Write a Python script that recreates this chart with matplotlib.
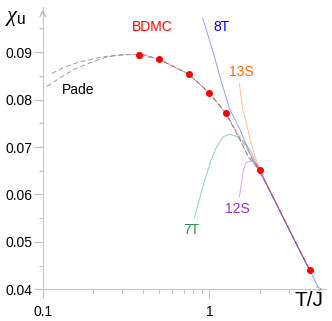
import matplotlib
matplotlib.use('Agg')
import matplotlib.pyplot as plt
from matplotlib.ticker import FixedLocator, NullFormatter

plt.rcParams['font.family'] = ['Liberation Sans', 'DejaVu Sans']
plt.rcParams['mathtext.fontset'] = 'custom'
plt.rcParams['mathtext.rm'] = 'Liberation Sans'
plt.rcParams['mathtext.it'] = 'Liberation Serif:italic'

# BDMC data
bdmc_T = [0.377, 0.50, 0.752, 1.0, 1.25, 2.0, 4.02]
bdmc_chi = [0.0894, 0.08846, 0.08536, 0.0814, 0.0772, 0.0651, 0.0440]
bdmc_err = [0.0006, 0.0002, 0.0001, 0.0001, 0.0001, 0.0001, 0.0001]

# Pade approximants (two branches)
pade1_T = [0.1137, 0.1361, 0.1674, 0.206, 0.2535, 0.334, 0.40, 0.50, 0.75, 1.0, 1.25, 1.46, 1.71, 1.97]
pade1_chi = [0.08553, 0.0869, 0.08795, 0.08869, 0.08922, 0.08950, 0.08950, 0.0885, 0.0854, 0.0814, 0.0772, 0.0729, 0.0680, 0.0653]
pade2_T = [0.1061, 0.127, 0.1563, 0.1922, 0.2366, 0.291, 0.334, 0.40, 0.50, 0.75, 1.0, 1.25, 1.46, 1.71, 1.97]
pade2_chi = [0.08278, 0.08458, 0.08648, 0.08774, 0.0889, 0.08943, 0.08950, 0.08950, 0.0885, 0.0854, 0.0814, 0.0772, 0.0729, 0.0680, 0.0653]

# high-temperature series
s8T_T = [0.913, 1.057, 1.187, 1.318, 1.529, 1.797, 1.968, 2.5, 3.0, 3.5, 4.0, 4.49]
s8T_chi = [0.09717, 0.0898, 0.08346, 0.07819, 0.07361, 0.06764, 0.06517, 0.0583, 0.0527, 0.0480, 0.0440, 0.0405]
s13S_T = [1.514, 1.587, 1.638, 1.755, 1.88, 2.05, 2.5, 3.0, 3.5, 4.0]
s13S_chi = [0.08331, 0.07783, 0.07641, 0.0715, 0.06797, 0.0645, 0.0583, 0.0527, 0.0480, 0.0440]
s7T_T = [0.8128, 0.913, 1.024, 1.108, 1.213, 1.331, 1.46, 1.6, 1.755, 1.925, 2.05, 2.5, 3.0, 3.5, 4.0]
s7T_chi = [0.05498, 0.06165, 0.06728, 0.07009, 0.07219, 0.0727, 0.07219, 0.07114, 0.06939, 0.06623, 0.0645, 0.0583, 0.0527, 0.0480, 0.0440]
s12S_T = [1.514, 1.6, 1.661, 1.779, 1.906, 2.05, 2.5, 3.0, 3.5, 4.0]
s12S_chi = [0.05954, 0.06517, 0.06671, 0.06707, 0.06658, 0.0645, 0.0583, 0.0527, 0.0480, 0.0440]

fig = plt.figure(figsize=(3.32, 3.21), dpi=100)
ax = fig.add_axes([0.1286, 0.0988, 0.853, 0.879])

ax.plot(s7T_T, s7T_chi, color='#2e9a5e', lw=0.7, alpha=0.5)
ax.plot(s12S_T, s12S_chi, color='#a020f0', lw=0.7, alpha=0.4)
ax.plot(s13S_T, s13S_chi, color='#ff7f27', lw=0.7, alpha=0.5)
ax.plot(s8T_T, s8T_chi, color='#0000ff', lw=0.7, alpha=0.4)
ax.plot(pade1_T, pade1_chi, color='#9a9a9a', lw=0.7, dashes=(5, 3))
ax.plot(pade2_T, pade2_chi, color='#9a9a9a', lw=0.7, dashes=(5, 3))
ax.plot(bdmc_T, bdmc_chi, color='#ff0000', lw=0.7, alpha=0.35, dashes=(6, 3))
ax.errorbar(bdmc_T, bdmc_chi, yerr=bdmc_err, fmt='o', color='#ff0000', ms=4,
            ecolor='#ffa0a0', elinewidth=0.7, capsize=2.5, capthick=0.7, zorder=5)

ax.set_xscale('log')
ax.set_xlim(0.1, 5.0)
ax.set_ylim(0.04, 0.0995)

ax.xaxis.set_major_locator(FixedLocator([0.1, 1]))
ax.set_xticklabels(['0.1', '1'])
ax.xaxis.set_minor_locator(FixedLocator([0.2, 0.3, 0.4, 0.5, 0.6, 0.7, 0.8, 0.9, 2, 3, 4]))
ax.xaxis.set_minor_formatter(NullFormatter())
ax.yaxis.set_major_locator(FixedLocator([0.04, 0.05, 0.06, 0.07, 0.08, 0.09]))
ax.set_yticklabels(['0.04', '0.05', '0.06', '0.07', '0.08', '0.09'])
ax.yaxis.set_minor_locator(FixedLocator([0.045, 0.055, 0.065, 0.075, 0.085, 0.095]))

ax.tick_params(which='major', length=6.5, width=0.8, color='#c0c0c0', labelsize=10, pad=1)
ax.tick_params(which='minor', length=3, width=0.8, color='#c0c0c0')
ax.tick_params(axis='x', pad=5)

for s in ['top', 'right']:
    ax.spines[s].set_visible(False)
for s in ['left', 'bottom']:
    ax.spines[s].set_color('#c8c8c8')
    ax.spines[s].set_linewidth(0.8)
ax.annotate('', xy=(1.0, 0), xytext=(0.97, 0), xycoords='axes fraction',
            arrowprops=dict(arrowstyle='->', color='#b0b0b0', lw=0.8))
ax.annotate('', xy=(0, 1.0), xytext=(0, 0.97), xycoords='axes fraction',
            arrowprops=dict(arrowstyle='->', color='#b0b0b0', lw=0.8))

ax.text(0.453, 0.0953, 'BDMC', color='#ff0000', fontsize=10, ha='center', va='center')
ax.text(1.187, 0.0954, '8T', color='#0000ff', fontsize=10, ha='center', va='center')
ax.text(1.56, 0.0859, '13S', color='#ff6a00', fontsize=10, ha='center', va='center')
ax.text(0.163, 0.0820, 'Pade', color='black', fontsize=10, ha='center', va='center')
ax.text(0.776, 0.0525, '7T', color='#2e8b57', fontsize=10, ha='center', va='center')
ax.text(1.48, 0.0569, '12S', color='#9b30d0', fontsize=10, ha='center', va='center')
ax.text(3.98, 0.0377, 'T/J', color='black', fontsize=15, ha='center', va='center', clip_on=False)
fig.text(16 / 332, 1 - 17 / 321, r'$\chi_{\rm u}$', fontsize=16, ha='center', va='center')

fig.savefig('out.png', dpi=100)
